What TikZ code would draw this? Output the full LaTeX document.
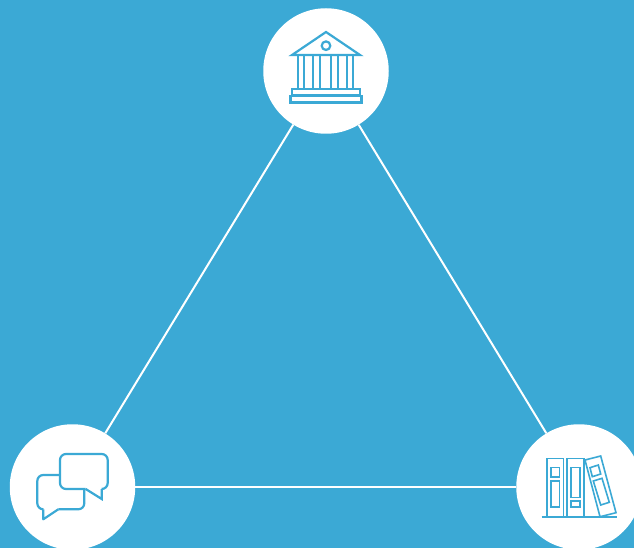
\documentclass[tikz,border=0pt]{standalone}
\usepackage{xcolor}
\usetikzlibrary{positioning}
\definecolor{skyback}{HTML}{3BA9D5}

\begin{document}
\begin{tikzpicture}[x=1pt, y=-1pt,
    hub/.style={circle, fill=white, minimum size=125.5pt, inner sep=0pt},
    link/.style={white, line width=2pt},
    icon/.style={skyback, line width=2.2pt, line join=miter},
    thinicon/.style={skyback, line width=1.6pt, line join=miter}]

    \fill [skyback, use as bounding box] (0,0) rectangle (634,548);
    \clip (0,0) rectangle (634,548);

    \node [hub] (temple) at (326,71) {};
    \node [hub] (chat) at (72.5,487) {};
    \node [hub] (books) at (579,487) {};

    \draw [link] (temple) -- (chat);
    \draw [link] (temple) -- (books);
    \draw [link] (chat) -- (books);

    % temple
    \draw [icon] (292,55) -- (326,32) -- (360,55) -- cycle;
    \draw [icon] (326,45.7) circle (4.3);
    \foreach \xa/\xb in {298.3/304.3, 313.3/320, 331/337.7, 346.7/353.3}
        \draw [icon] (\xa,55) -- (\xa,89) (\xb,55) -- (\xb,89);
    \draw [icon] (292,89) rectangle (360,95.5);
    \draw [icon] (290.5,96) rectangle (361.5,102.5);

    % speech bubbles
    \draw [icon, rounded corners=6pt] (60,475) -- (37.3,475) -- (37.3,509.3) -- (43.3,509.3);
    \draw [icon, line join=round] (43.3,509.3) -- (43.3,519.3) -- (58.3,509.3);
    \draw [icon, rounded corners=6pt] (58.3,509.3) -- (84.3,509.3) -- (84.3,489);
    \draw [icon, rounded corners=6pt] (85.7,489) -- (60,489) -- (60,454) -- (107.7,454) -- (107.7,489) -- (101.7,489);
    \draw [icon] (85.7,489) -- (101.7,499) -- (101.7,489);

    % books
    \draw [thinicon] (546.7,458.3) rectangle (563.3,516.7);
    \draw [thinicon] (550.7,467.3) rectangle (559.3,476.7);
    \draw [thinicon] (550.7,480.7) rectangle (559.3,506.7);
    \draw [thinicon] (566.7,458.3) rectangle (584,516.7);
    \draw [thinicon] (571,467.3) rectangle (580,497.3);
    \draw [thinicon] (571,501) rectangle (580,506.7);
    \draw [thinicon] (585,460) -- (600.7,456) -- (616,512.7) -- (600,516.7) -- cycle;
    \draw [thinicon] (590,467.7) -- (598.3,465) -- (600.7,474) -- (592.3,476.7) -- cycle;
    \draw [thinicon] (593.3,481) -- (602,478.3) -- (609.3,502.3) -- (600.7,505) -- cycle;
    \draw [thinicon] (541.7,517) -- (616.7,517);
\end{tikzpicture}
\end{document}
